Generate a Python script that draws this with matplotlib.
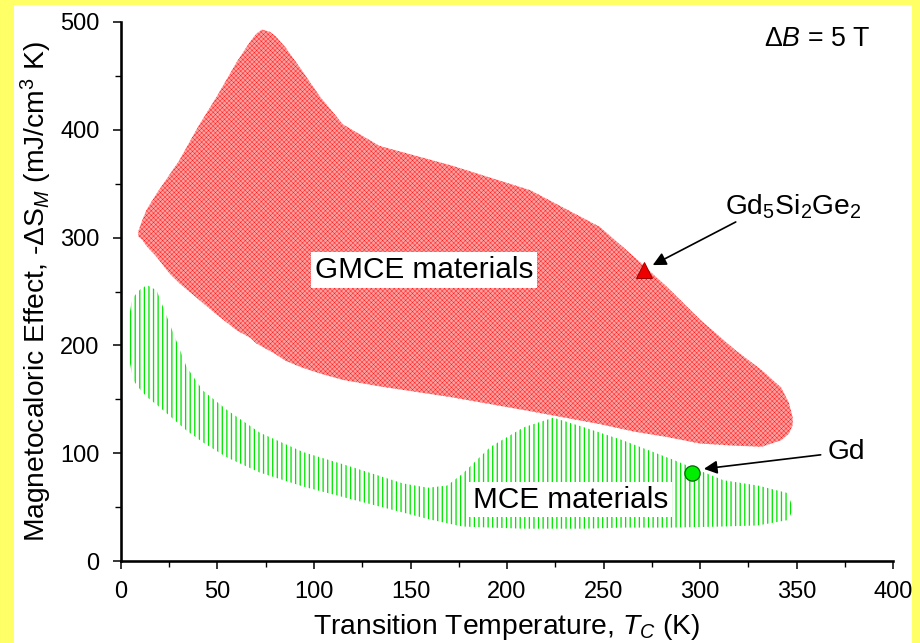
import matplotlib
matplotlib.use("Agg")
import matplotlib.pyplot as plt
from matplotlib.patches import Rectangle
from matplotlib.ticker import MultipleLocator

plt.rcParams["font.family"] = ["Liberation Sans", "DejaVu Sans"]
plt.rcParams["mathtext.fontset"] = "custom"
plt.rcParams["mathtext.rm"] = "Liberation Sans"
plt.rcParams["mathtext.it"] = "Liberation Sans:italic"

# --------------------------------------------------------------------------- #
#  Envelopes of -dS_M vs T_C (dB = 5 T)
# --------------------------------------------------------------------------- #
gmce_T = [9, 11, 13.3, 18.5, 25, 30, 40, 50, 60, 67, 70, 73, 77, 80, 85, 93,
          103, 115, 134, 171, 212, 248, 266, 283, 300, 318, 332, 342, 346, 348]
gmce_upper = [306, 316, 326, 341, 358, 371, 403, 432, 463, 482, 489, 493, 491,
              487, 477, 457, 431, 405, 385, 367, 344, 310, 282, 254, 224, 196,
              177, 161, 147, 133]
gmce_lower = [301, 298, 292, 282, 267, 258, 243, 228, 214, 207, 202, 199, 195,
              192, 186, 180, 174, 168, 162, 152, 139, 127, 120, 115, 109, 107,
              106, 112, 118, 126]

mce_T = [4.5, 5.5, 7, 10, 13.5, 18.5, 25, 34, 42.5, 55, 72, 94.5, 120, 146,
         159, 169, 177, 191.5, 208.6, 224, 240, 260, 286, 312, 330, 345.5, 347.5]
mce_upper = [230, 240, 246, 252, 256, 251, 221, 180, 158, 140, 119, 101, 87,
             72, 68, 70, 81, 106, 124, 133, 124, 112, 94, 75, 70, 63, 52]
mce_lower = [185, 175, 166, 159, 152, 145, 135, 121, 110, 96, 82, 69, 57, 45,
             39, 35, 32, 31, 30, 30, 30, 31, 31, 32, 33, 38, 45]

# reference materials
gd5si2ge2_T, gd5si2ge2_dS = 271, 270
gd_T, gd_dS = 296, 82

fig = plt.figure(figsize=(920 / 110, 643 / 110), dpi=110, facecolor="#ffff66")
fig.patches.append(Rectangle((14 / 920, 0), 898 / 920, 638 / 643,
                             transform=fig.transFigure, facecolor="white",
                             edgecolor="none", zorder=-10))

ax = fig.add_axes([0.1315, 0.1275, 0.8392, 0.8383])
ax.set_facecolor("none")

# GMCE envelope — fine red stipple
with plt.rc_context({"hatch.linewidth": 0.3}):
    ax.fill_between(gmce_T, gmce_upper, gmce_lower, facecolor="#ffa0a0",
                    edgecolor="#ff1a1a", hatch="xxxxxxxx", linewidth=0, zorder=1)

# MCE envelope — vertical green lines
with plt.rc_context({"hatch.linewidth": 0.85}):
    ax.fill_between(mce_T, mce_upper, mce_lower, facecolor="none",
                    edgecolor="#00e600", hatch="||||", linewidth=0, zorder=1)

label_box = dict(boxstyle="square,pad=0.12", facecolor="white", edgecolor="none")
ax.text(157, 270, "GMCE materials", fontsize=19.5, ha="center", va="center",
        bbox=label_box, zorder=3)
ax.text(233, 57, "MCE materials", fontsize=19.5, ha="center", va="center",
        bbox=label_box, zorder=3)

ax.plot(gd5si2ge2_T, gd5si2ge2_dS, marker="^", markersize=10, color="#ee0000",
        markeredgecolor="#990000", markeredgewidth=0.6, zorder=4)
ax.plot(gd_T, gd_dS, marker="o", markersize=10, color="#00ee00",
        markeredgecolor="#006600", markeredgewidth=0.8, zorder=4)

arrow = dict(arrowstyle="-|>", color="black", lw=1.1, mutation_scale=18,
             shrinkA=0, shrinkB=0)
ax.annotate("", xy=(275.5, 274.5), xytext=(318.5, 314.5), arrowprops=arrow, zorder=5)
ax.annotate("", xy=(302, 85.5), xytext=(362.5, 98.5), arrowprops=arrow, zorder=5)

ax.text(348.6, 321, "Gd$_5$Si$_2$Ge$_2$", fontsize=18.5, ha="center", va="baseline")
ax.text(376, 101, "Gd", fontsize=18.5, ha="center", va="center")
ax.text(360.5, 484, "Δ$B$ = 5 T", fontsize=17.5, ha="center", va="center")

ax.set_xlim(0, 400)
ax.set_ylim(0, 500)
ax.xaxis.set_major_locator(MultipleLocator(50))
ax.xaxis.set_minor_locator(MultipleLocator(25))
ax.yaxis.set_major_locator(MultipleLocator(100))
ax.yaxis.set_minor_locator(MultipleLocator(50))

for side in ("top", "right"):
    ax.spines[side].set_visible(False)
for side in ("left", "bottom"):
    ax.spines[side].set_linewidth(1.7)

ax.tick_params(which="major", direction="out", length=5, width=1.0,
               labelsize=15.5)
ax.tick_params(which="minor", direction="out", length=4, width=0.9)
ax.tick_params(axis="y", which="major", pad=9)
ax.tick_params(axis="x", which="major", pad=8)

ax.set_xlabel("Transition Temperature, $T_C$ (K)", fontsize=18.5, labelpad=6)
ax.set_ylabel(r"Magnetocaloric Effect, -Δ$\mathrm{S}_M$ (mJ/cm$^3$ K)",
              fontsize=18.5, labelpad=4)

fig.savefig("out.png", dpi=110, facecolor=fig.get_facecolor())
